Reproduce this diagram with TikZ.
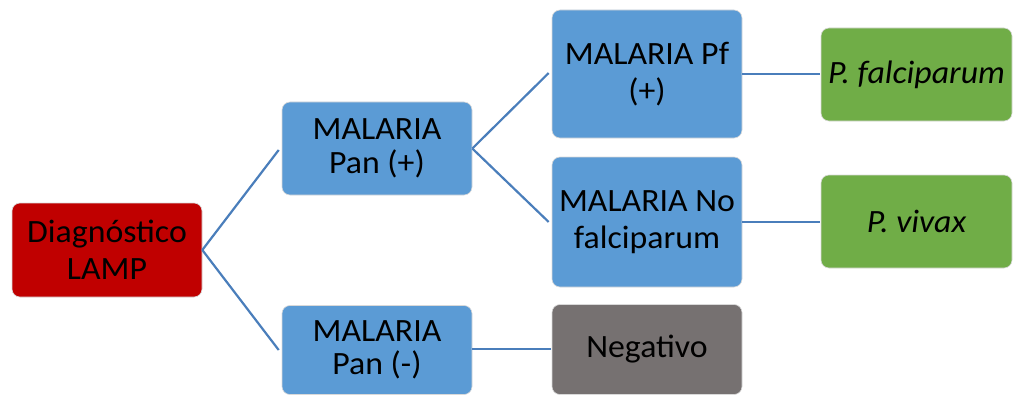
\documentclass[tikz,border=0pt]{standalone}
\usepackage{fontspec}
\setmainfont{Carlito}[FakeStretch=1.04]
\definecolor{cred}{HTML}{C00000}
\definecolor{cblue}{HTML}{5B9BD5}
\definecolor{cgreen}{HTML}{70AD47}
\definecolor{cgray}{HTML}{767171}
\definecolor{cline}{HTML}{4A7EBB}
\tikzset{
  boxbase/.style={rounded corners=8pt, draw=white!85!black, line width=0.6pt, align=center, inner sep=0pt, text=black, font=\fontsize{32.5}{36.5}\selectfont, minimum width=190pt},
  tight/.style={font=\fontsize{32.5}{33.5}\selectfont},
  redbox/.style={boxbase, fill=cred},
  bluebox/.style={boxbase, fill=cblue},
  greenbox/.style={boxbase, fill=cgreen},
  graybox/.style={boxbase, fill=cgray},
  conn/.style={draw=cline, line width=2.2pt}
}
\begin{document}
\begin{tikzpicture}[x=1pt, y=-1pt]
\useasboundingbox (0,0) rectangle (1018,396);
\node[redbox, minimum height=94pt] (lamp) at (107,250) {Diagnóstico\\LAMP};
\node[bluebox, tight, minimum height=93pt] (panp) at (377,148.5) {MALARIA\\Pan (+)};
\node[bluebox, tight, minimum height=89pt] (panm) at (377,350) {MALARIA\\Pan (-)};
\node[bluebox, minimum height=128pt] (pf) at (647,74) {MALARIA Pf\\(+)};
\node[bluebox, minimum height=130pt] (nof) at (647,222) {MALARIA No\\falciparum};
\node[graybox, minimum height=90pt] (neg) at (647,349.5) {Negativo};
\node[greenbox, minimum height=93pt, minimum width=191pt] (pfal) at (916.5,74.5) {\itshape P. falciparum};
\node[greenbox, minimum height=93pt, minimum width=191pt] (pviv) at (916.5,221.5) {\itshape P. vivax};
\draw[conn] (lamp.east) -- ([xshift=-3pt,yshift=-1.5pt]panp.west);
\draw[conn] (lamp.east) -- ([xshift=-3pt]panm.west);
\draw[conn] (panp.east) -- ([xshift=-3pt,yshift=1pt]pf.west);
\draw[conn] (panp.east) -- ([xshift=-3pt]nof.west);
\draw[conn] ([yshift=1pt]panm.east) -- ([xshift=-1pt,yshift=1pt]panm.east -| neg.west);
\draw[conn] (pf.east) -- ([xshift=-1pt]pf.east -| pfal.west);
\draw[conn] (nof.east) -- ([xshift=-1pt]nof.east -| pviv.west);
\end{tikzpicture}
\end{document}
